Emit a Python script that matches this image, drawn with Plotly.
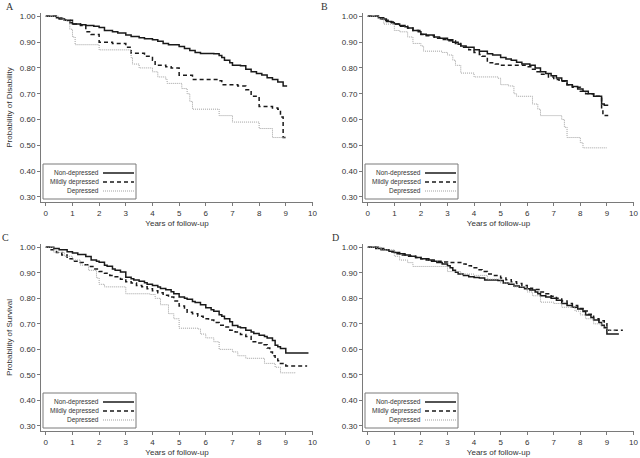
import plotly.graph_objects as go

# ---- data (Kaplan-Meier style step curves) ----
GROUPS = ["Non-depressed", "Mildly depressed", "Depressed"]
PANELS = ["A", "B", "C", "D"]

# Panel A - probability of disability
a_nondep_t = [0, 0.4, 0.5, 0.7, 0.9, 1.0, 1.3, 1.5, 1.8, 2.0, 2.2, 2.5, 2.7, 3.0, 3.2, 3.5, 3.7, 4.0, 4.2, 4.4, 4.6, 5.0, 5.2, 5.4, 5.6, 5.8, 6.3, 6.5, 6.6, 6.7, 6.9, 7.0, 7.3, 7.5, 7.7, 7.9, 8.1, 8.3, 8.5, 8.7, 8.9, 9.05]
a_nondep_s = [1.00, 0.995, 0.990, 0.985, 0.975, 0.970, 0.967, 0.965, 0.962, 0.957, 0.945, 0.940, 0.935, 0.928, 0.922, 0.917, 0.913, 0.909, 0.903, 0.895, 0.890, 0.883, 0.875, 0.868, 0.860, 0.856, 0.855, 0.848, 0.840, 0.830, 0.820, 0.810, 0.808, 0.795, 0.785, 0.778, 0.773, 0.762, 0.755, 0.745, 0.730, 0.730]
a_mild_t = [0, 0.5, 0.7, 1.0, 1.3, 1.5, 1.7, 2.0, 2.5, 3.0, 3.2, 3.7, 4.0, 4.1, 4.5, 4.7, 5.0, 5.5, 6.0, 6.5, 6.6, 7.2, 7.5, 7.7, 8.0, 8.5, 8.7, 8.8, 8.9, 9.0]
a_mild_s = [1.00, 0.995, 0.985, 0.970, 0.965, 0.940, 0.930, 0.900, 0.895, 0.880, 0.857, 0.845, 0.830, 0.810, 0.805, 0.800, 0.772, 0.755, 0.755, 0.750, 0.735, 0.730, 0.715, 0.690, 0.650, 0.645, 0.640, 0.610, 0.530, 0.525]
a_dep_t = [0, 0.5, 0.65, 0.8, 0.9, 1.0, 1.1, 2.0, 3.0, 3.2, 3.25, 3.5, 4.0, 4.2, 4.5, 4.55, 5.0, 5.1, 5.3, 5.4, 5.5, 6.5, 7.0, 7.9, 8.0, 8.5, 9.0]
a_dep_s = [1.00, 0.995, 0.985, 0.980, 0.950, 0.920, 0.890, 0.870, 0.870, 0.840, 0.815, 0.800, 0.785, 0.765, 0.755, 0.740, 0.740, 0.720, 0.700, 0.670, 0.640, 0.615, 0.590, 0.590, 0.565, 0.530, 0.530]

# Panel B - probability of disability
b_nondep_t = [0, 0.4, 0.5, 0.7, 0.9, 1.0, 1.2, 1.4, 1.5, 1.7, 1.9, 2.0, 2.2, 2.5, 2.7, 3.0, 3.2, 3.4, 3.5, 3.7, 4.0, 4.2, 4.5, 4.7, 5.0, 5.2, 5.4, 5.6, 5.8, 6.1, 6.3, 6.5, 6.7, 6.9, 7.1, 7.3, 7.5, 7.7, 7.9, 8.1, 8.3, 8.5, 8.8, 8.9, 9.05]
b_nondep_s = [1.00, 0.995, 0.990, 0.980, 0.975, 0.970, 0.965, 0.960, 0.955, 0.945, 0.940, 0.931, 0.928, 0.920, 0.915, 0.909, 0.900, 0.892, 0.885, 0.880, 0.870, 0.865, 0.855, 0.850, 0.840, 0.835, 0.830, 0.822, 0.815, 0.810, 0.800, 0.785, 0.778, 0.770, 0.761, 0.750, 0.735, 0.728, 0.718, 0.710, 0.700, 0.690, 0.660, 0.655, 0.655]
b_mild_t = [0, 0.4, 0.6, 0.8, 1.0, 1.2, 1.5, 1.7, 2.0, 2.2, 2.5, 2.8, 3.0, 3.3, 3.5, 3.8, 4.0, 4.2, 4.3, 4.5, 4.8, 5.0, 6.0, 6.2, 6.3, 6.5, 6.8, 7.0, 7.2, 7.5, 7.7, 8.0, 8.2, 8.5, 8.8, 8.85, 9.05]
b_mild_s = [1.00, 0.995, 0.985, 0.978, 0.970, 0.962, 0.955, 0.945, 0.930, 0.925, 0.915, 0.910, 0.905, 0.895, 0.880, 0.870, 0.860, 0.852, 0.845, 0.820, 0.815, 0.810, 0.805, 0.795, 0.785, 0.775, 0.765, 0.755, 0.748, 0.735, 0.725, 0.710, 0.700, 0.690, 0.640, 0.615, 0.615]
b_dep_t = [0, 0.4, 0.6, 1.0, 1.2, 1.5, 1.7, 2.0, 2.1, 2.8, 3.0, 3.2, 3.3, 3.5, 4.0, 4.9, 5.0, 5.3, 5.5, 5.6, 6.1, 6.2, 6.4, 6.5, 7.0, 7.3, 7.4, 7.5, 8.0, 8.1, 9.0]
b_dep_s = [1.00, 0.990, 0.970, 0.945, 0.940, 0.920, 0.895, 0.885, 0.865, 0.860, 0.850, 0.830, 0.810, 0.780, 0.765, 0.760, 0.735, 0.730, 0.700, 0.690, 0.690, 0.660, 0.640, 0.615, 0.615, 0.600, 0.570, 0.530, 0.510, 0.490, 0.490]

# Panel C - probability of survival
c_nondep_t = [0, 0.3, 0.5, 0.8, 1.0, 1.2, 1.5, 1.7, 1.9, 2.0, 2.2, 2.3, 2.5, 2.6, 2.8, 3.0, 3.2, 3.3, 3.5, 3.7, 3.8, 4.0, 4.2, 4.3, 4.5, 4.7, 4.8, 5.0, 5.2, 5.3, 5.5, 5.6, 5.8, 6.0, 6.2, 6.3, 6.5, 6.6, 6.7, 6.9, 7.0, 7.2, 7.3, 7.5, 7.7, 7.8, 8.0, 8.2, 8.3, 8.5, 8.6, 8.7, 8.8, 9.0, 9.85]
c_nondep_s = [1.00, 0.995, 0.990, 0.983, 0.978, 0.972, 0.964, 0.950, 0.945, 0.941, 0.930, 0.926, 0.915, 0.910, 0.903, 0.883, 0.877, 0.872, 0.867, 0.861, 0.855, 0.850, 0.844, 0.839, 0.834, 0.826, 0.818, 0.805, 0.800, 0.796, 0.788, 0.784, 0.775, 0.763, 0.755, 0.749, 0.736, 0.730, 0.720, 0.708, 0.694, 0.688, 0.685, 0.675, 0.668, 0.662, 0.655, 0.650, 0.645, 0.635, 0.616, 0.610, 0.603, 0.586, 0.586]
c_mild_t = [0, 0.2, 0.4, 0.6, 0.8, 1.0, 1.2, 1.4, 1.6, 1.8, 2.0, 2.2, 2.4, 2.6, 2.8, 3.0, 3.2, 3.4, 3.6, 3.8, 4.0, 4.2, 4.4, 4.6, 4.8, 5.0, 5.2, 5.3, 5.5, 5.7, 5.9, 6.1, 6.3, 6.5, 6.7, 6.9, 7.1, 7.3, 7.5, 7.7, 7.9, 8.1, 8.3, 8.4, 8.5, 8.6, 8.7, 8.8, 9.0, 9.8]
c_mild_s = [1.00, 0.990, 0.980, 0.970, 0.955, 0.945, 0.940, 0.932, 0.925, 0.915, 0.905, 0.898, 0.890, 0.885, 0.875, 0.865, 0.860, 0.850, 0.845, 0.838, 0.830, 0.822, 0.812, 0.805, 0.790, 0.770, 0.755, 0.745, 0.740, 0.730, 0.720, 0.715, 0.705, 0.695, 0.688, 0.675, 0.668, 0.658, 0.650, 0.630, 0.625, 0.618, 0.605, 0.590, 0.575, 0.565, 0.555, 0.545, 0.535, 0.535]
c_dep_t = [0, 0.3, 0.7, 1.0, 1.3, 1.6, 1.9, 2.0, 2.2, 2.9, 3.0, 3.9, 4.1, 4.3, 4.6, 4.8, 5.0, 5.7, 5.8, 6.0, 6.3, 6.5, 7.0, 7.2, 7.5, 8.0, 8.2, 8.6, 8.8, 9.35]
c_dep_s = [1.00, 0.980, 0.965, 0.950, 0.930, 0.910, 0.880, 0.855, 0.845, 0.845, 0.818, 0.815, 0.800, 0.775, 0.740, 0.720, 0.683, 0.680, 0.660, 0.645, 0.630, 0.600, 0.590, 0.575, 0.565, 0.565, 0.545, 0.530, 0.508, 0.505]

# Panel D - probability of survival
d_nondep_t = [0, 0.4, 0.6, 0.8, 1.0, 1.2, 1.4, 1.6, 1.8, 2.0, 2.2, 2.4, 2.6, 2.8, 3.0, 3.1, 3.2, 3.3, 3.4, 3.6, 3.8, 4.0, 4.2, 4.4, 4.9, 5.1, 5.3, 5.5, 5.7, 5.9, 6.1, 6.3, 6.4, 6.5, 6.7, 6.9, 7.1, 7.3, 7.5, 7.7, 7.9, 8.1, 8.2, 8.4, 8.5, 8.7, 8.8, 8.9, 9.0, 9.45]
d_nondep_s = [1.00, 0.995, 0.990, 0.985, 0.980, 0.975, 0.970, 0.965, 0.960, 0.955, 0.950, 0.945, 0.940, 0.935, 0.928, 0.920, 0.910, 0.902, 0.895, 0.890, 0.885, 0.882, 0.880, 0.872, 0.870, 0.860, 0.855, 0.848, 0.843, 0.838, 0.833, 0.825, 0.818, 0.810, 0.805, 0.800, 0.793, 0.780, 0.772, 0.765, 0.758, 0.748, 0.735, 0.725, 0.715, 0.705, 0.695, 0.685, 0.660, 0.660]
d_mild_t = [0, 0.3, 0.5, 0.8, 1.0, 1.3, 1.5, 1.8, 2.0, 2.3, 2.5, 2.8, 3.0, 3.5, 3.7, 3.9, 4.1, 4.3, 4.5, 4.7, 5.0, 5.2, 5.4, 5.6, 5.8, 6.0, 6.2, 6.5, 6.7, 6.9, 7.1, 7.3, 7.5, 7.7, 7.9, 8.1, 8.3, 8.5, 8.7, 8.9, 9.0, 9.6]
d_mild_s = [1.00, 0.995, 0.990, 0.982, 0.975, 0.970, 0.965, 0.960, 0.955, 0.950, 0.945, 0.942, 0.940, 0.935, 0.928, 0.920, 0.912, 0.905, 0.895, 0.890, 0.880, 0.873, 0.865, 0.858, 0.850, 0.840, 0.835, 0.825, 0.818, 0.808, 0.800, 0.790, 0.780, 0.772, 0.760, 0.750, 0.738, 0.720, 0.712, 0.700, 0.675, 0.675]
d_dep_t = [0, 0.5, 1.0, 1.2, 1.5, 1.7, 2.8, 3.0, 3.5, 4.0, 4.5, 5.0, 5.5, 6.0, 6.2, 6.5, 7.0, 7.3, 7.8, 8.0, 8.2, 8.5, 8.8, 9.0, 9.3]
d_dep_s = [1.00, 0.990, 0.965, 0.950, 0.940, 0.925, 0.925, 0.905, 0.895, 0.890, 0.875, 0.860, 0.845, 0.825, 0.810, 0.785, 0.780, 0.765, 0.750, 0.735, 0.720, 0.700, 0.690, 0.675, 0.670]

CURVES = {
    "A": [(a_nondep_t, a_nondep_s), (a_mild_t, a_mild_s), (a_dep_t, a_dep_s)],
    "B": [(b_nondep_t, b_nondep_s), (b_mild_t, b_mild_s), (b_dep_t, b_dep_s)],
    "C": [(c_nondep_t, c_nondep_s), (c_mild_t, c_mild_s), (c_dep_t, c_dep_s)],
    "D": [(d_nondep_t, d_nondep_s), (d_mild_t, d_mild_s), (d_dep_t, d_dep_s)],
}

Y_TITLES = {"A": "Probability of Disability", "B": "", "C": "Probability of Survival", "D": ""}
X_TICKS = list(range(0, 11))
Y_TICKS = [0.30, 0.40, 0.50, 0.60, 0.70, 0.80, 0.90, 1.00]

# ---- styling ----
STYLES = [
    dict(color="#1a1a1a", width=1.5, dash="solid"),
    dict(color="#1a1a1a", width=1.5, dash="4px,3px"),
    dict(color="#a0a0a0", width=1.0, dash="1px,1px"),
]
AXIS_COLOR = "#7a7a7a"
TEXT_COLOR = "#333333"
FONT = "Liberation Sans, Arial, sans-serif"

W, H = 640, 458
# plot areas in pixels: (left, right, top, bottom)
AREAS = {
    "A": (41, 313, 13, 202),
    "B": (363, 634, 13, 202),
    "C": (41, 313, 244, 431),
    "D": (363, 634, 244, 431),
}
LABEL_POS = {"A": (10, 6), "B": (324, 6), "C": (5, 237), "D": (335, 237)}

fig = go.Figure()

for i, p in enumerate(PANELS):
    xa = "x" if i == 0 else f"x{i + 1}"
    ya = "y" if i == 0 else f"y{i + 1}"
    left, right, top, bottom = AREAS[p]

    for g, (t, s) in enumerate(CURVES[p]):
        assert len(t) == len(s), (p, g)
        fig.add_trace(
            go.Scatter(
                x=t, y=s, xaxis=xa, yaxis=ya,
                mode="lines", line_shape="hv",
                line=STYLES[g], name=GROUPS[g], showlegend=False,
            )
        )

    axis_common = dict(
        showline=True, linecolor=AXIS_COLOR, linewidth=1,
        ticks="outside", ticklen=3, tickcolor=AXIS_COLOR,
        showgrid=False, zeroline=False, automargin=False,
        tickfont=dict(family=FONT, size=8, color=TEXT_COLOR),
    )
    fig.layout[xa.replace("x", "xaxis")] = dict(
        axis_common,
        domain=[left / W, right / W], anchor=ya,
        range=[-0.18, 10.02], tickvals=X_TICKS,
        title=dict(text="Years of follow-up", standoff=3,
                   font=dict(family=FONT, size=8, color=TEXT_COLOR)),
    )
    fig.layout[ya.replace("y", "yaxis")] = dict(
        axis_common,
        domain=[1 - bottom / H, 1 - top / H], anchor=xa,
        range=[0.28, 1.013], tickvals=Y_TICKS, tickformat=".2f",
        title=dict(text=Y_TITLES[p], standoff=6,
                   font=dict(family=FONT, size=8, color=TEXT_COLOR)),
    )

    # legend box drawn inside the plot, text right-aligned with line sample on the right
    xd, yd = f"{xa} domain", f"{ya} domain"
    pw, ph = right - left, bottom - top
    fig.add_shape(type="rect", xref=xd, yref=yd,
                  x0=2 / pw, x1=95 / pw, y0=3 / ph, y1=38 / ph,
                  line=dict(color=AXIS_COLOR, width=1), fillcolor="white")
    for g, row in enumerate([29, 20, 11]):
        fig.add_annotation(xref=xd, yref=yd, x=60 / pw, y=row / ph,
                           text=GROUPS[g], showarrow=False,
                           xanchor="right", yanchor="middle",
                           font=dict(family=FONT, size=6.5, color=TEXT_COLOR))
        fig.add_shape(type="line", xref=xd, yref=yd,
                      x0=62 / pw, x1=93 / pw, y0=row / ph, y1=row / ph,
                      line=STYLES[g])

    lx, ly = LABEL_POS[p]
    fig.add_annotation(xref="paper", yref="paper", x=lx / W, y=1 - ly / H,
                       text=p, showarrow=False, xanchor="center", yanchor="middle",
                       font=dict(family="Liberation Serif, Times New Roman, serif",
                                 size=10, color=TEXT_COLOR))

fig.update_layout(
    width=W, height=H,
    margin=dict(l=0, r=0, t=0, b=0),
    plot_bgcolor="white", paper_bgcolor="white",
    showlegend=False,
)

# the page body has a default margin; remove it so the figure fills the window
fig.write_html("out.html",
               config={"displayModeBar": False},
               post_script="document.body.style.margin='0';document.body.style.overflow='hidden';")
